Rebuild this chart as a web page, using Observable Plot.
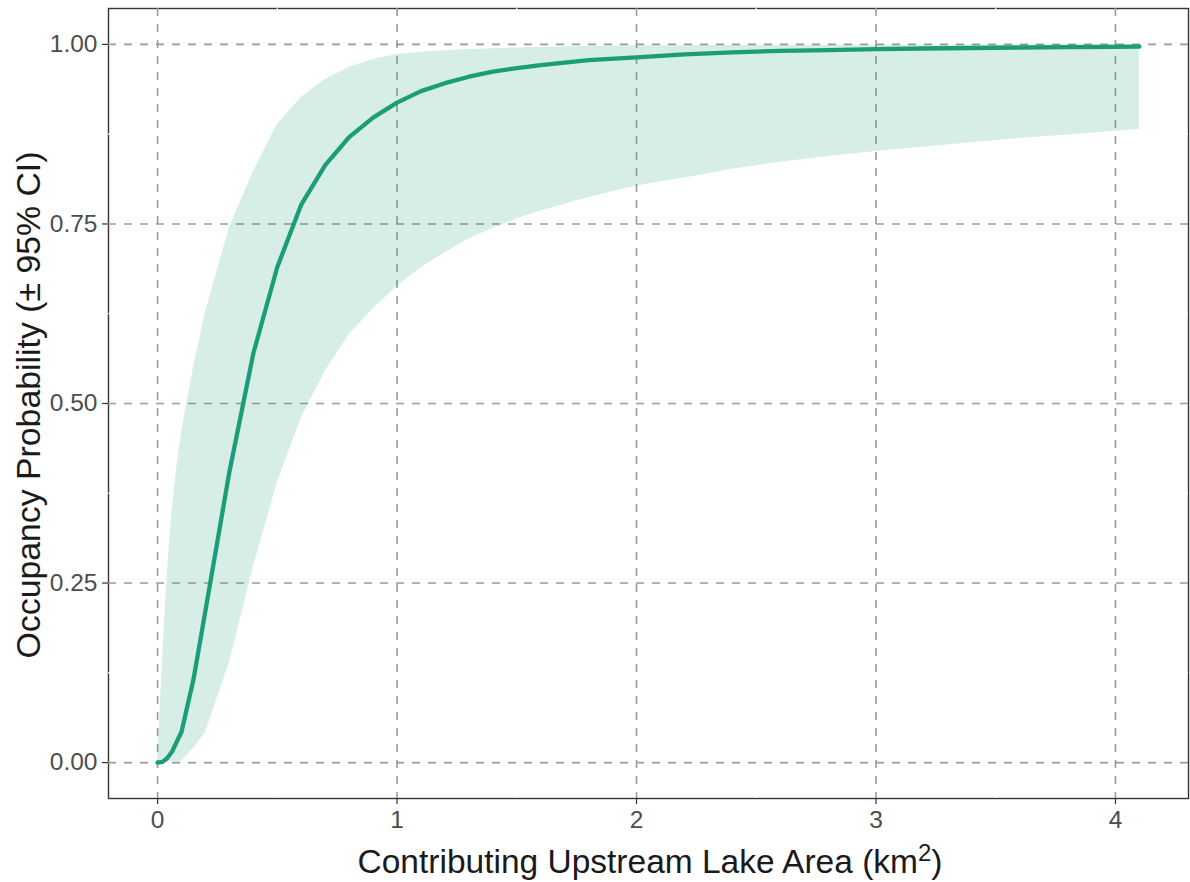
<!DOCTYPE html>
<html>
<head>
<meta charset="utf-8">
<script src="https://cdn.jsdelivr.net/npm/d3@7"></script>
<script src="https://cdn.jsdelivr.net/npm/@observablehq/plot@0.6"></script>
<style>
  html, body { margin: 0; padding: 0; background: #fff; }
  #chart svg { display: block; }
</style>
</head>
<body>
<div id="chart"></div>
<script>
// Contributing upstream lake area (km^2)
const area = [0, 0.02, 0.04, 0.06, 0.08, 0.1, 0.15, 0.2, 0.3, 0.4, 0.5, 0.6, 0.7, 0.8, 0.9, 1.0,
  1.1, 1.2, 1.3, 1.4, 1.5, 1.6, 1.8, 2.0, 2.2, 2.4, 2.6, 2.8, 3.0, 3.2, 3.4, 3.6, 3.8, 4.0, 4.1];
// Fitted occupancy probability
const fitted = [0, 0.001, 0.006, 0.015, 0.029, 0.043, 0.116, 0.212, 0.405, 0.57, 0.69, 0.777, 0.832, 0.871, 0.898, 0.919,
  0.935, 0.946, 0.955, 0.962, 0.967, 0.971, 0.978, 0.982, 0.986, 0.989, 0.991, 0.992, 0.9934, 0.9943, 0.995, 0.9957, 0.9962, 0.9966, 0.9968];
// Lower 95% CI
const lower = [0, 0, 0, 0.001, 0.001, 0.002, 0.02, 0.042, 0.139, 0.272, 0.39, 0.48, 0.545, 0.596, 0.632, 0.663,
  0.689, 0.71, 0.729, 0.744, 0.757, 0.768, 0.787, 0.803, 0.814, 0.826, 0.836, 0.844, 0.851, 0.857, 0.863, 0.869, 0.874, 0.879, 0.882];
// Upper 95% CI
const upper = [0, 0.14, 0.26, 0.35, 0.41, 0.46, 0.55, 0.627, 0.745, 0.823, 0.889, 0.926, 0.951, 0.968, 0.979, 0.986,
  0.989, 0.991, 0.993, 0.994, 0.995, 0.996, 0.997, 0.998, 0.998, 0.9985, 0.9988, 0.999, 0.999, 0.999, 0.9992, 0.9993, 0.9994, 0.9995, 0.9995];

const xTicks = [0, 1, 2, 3, 4];
const yTicks = [0, 0.25, 0.5, 0.75, 1];
const xMinor = [0.5, 1.5, 2.5, 3.5];
const yMinor = [0.125, 0.375, 0.625, 0.875];

const data = area.map((x, i) => ({x, fit: fitted[i], lo: lower[i], hi: upper[i]}));

const FONT = "'Liberation Sans', Arial, Helvetica, sans-serif";
const green = "#1b9e77";

const chart = Plot.plot({
  width: 1190,
  height: 882,
  marginLeft: 108,
  marginRight: 2,
  marginTop: 8,
  marginBottom: 84,
  style: {fontFamily: FONT, fontSize: "24.5px", color: "#4d4d4d", background: "#fff"},
  x: {domain: [-0.205, 4.305], label: null},
  y: {domain: [-0.05, 1.05], label: null},
  marks: [
    Plot.frame({stroke: "#333", strokeWidth: 1.4}),
    Plot.ruleX(xMinor, {stroke: "#fff", strokeWidth: 1.2}),
    Plot.ruleY(yMinor, {stroke: "#fff", strokeWidth: 1.2}),
    Plot.ruleX(xTicks, {stroke: "#9a9a9a", strokeWidth: 1.6, strokeDasharray: "8,8"}),
    Plot.ruleY(yTicks, {stroke: "#9a9a9a", strokeWidth: 1.6, strokeDasharray: "8,8"}),
    Plot.areaY(data, {x: "x", y1: "lo", y2: "hi", fill: green, fillOpacity: 0.18}),
    Plot.line(data, {x: "x", y: "fit", stroke: green, strokeWidth: 4.3, strokeLinejoin: "round"}),
    Plot.axisX({ticks: xTicks, tickFormat: d => String(d), tickSize: 6, tickPadding: 6, stroke: "#333", strokeWidth: 1.2, label: null}),
    Plot.axisY({ticks: yTicks, tickFormat: d3.format(".2f"), tickSize: 6, tickPadding: 5, stroke: "#333", strokeWidth: 1.2, label: null})
  ]
});

document.getElementById("chart").appendChild(chart);

const svg = d3.select(chart);
svg.selectAll("g[aria-label='x-axis tick label'] text, g[aria-label='y-axis tick label'] text").attr("fill", "#4d4d4d");
svg.selectAll("g[aria-label='x-axis tick label'], g[aria-label='y-axis tick label']").attr("fill", "#4d4d4d");

// X axis title with superscript
const xt = svg.append("text")
  .attr("x", 650).attr("y", 873)
  .attr("text-anchor", "middle")
  .attr("fill", "#1a1a1a")
  .style("font-family", FONT)
  .style("font-size", "33.5px");
xt.append("tspan").text("Contributing Upstream Lake Area (km");
xt.append("tspan").attr("dy", "-12").style("font-size", "24px").text("2");
xt.append("tspan").attr("dy", "12").text(")");

// Y axis title
svg.append("text")
  .attr("transform", "translate(40,405) rotate(-90)")
  .attr("text-anchor", "middle")
  .attr("fill", "#1a1a1a")
  .style("font-family", FONT)
  .style("font-size", "33.8px")
  .text("Occupancy Probability (\u00b1 95% CI)");
</script>
</body>
</html>
